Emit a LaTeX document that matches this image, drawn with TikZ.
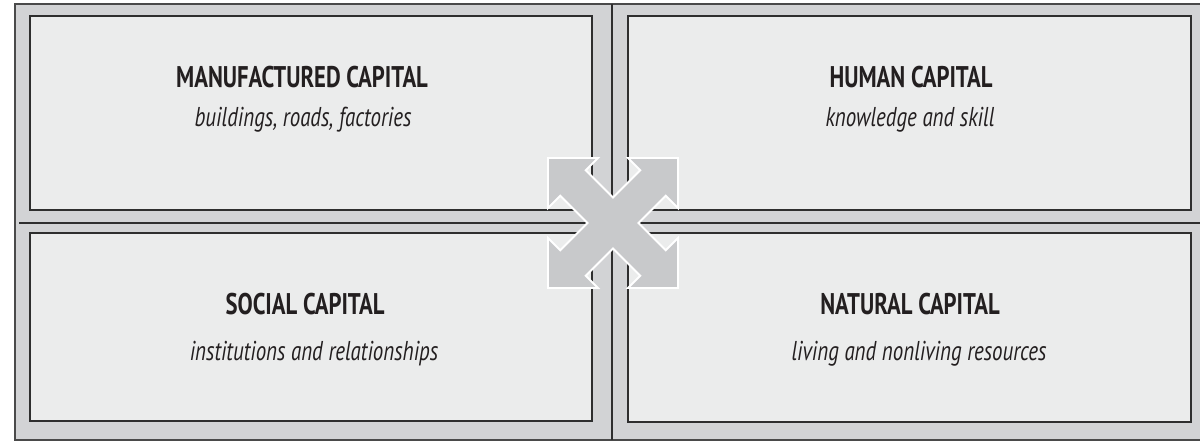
\documentclass[tikz,border=0pt]{standalone}
\usepackage{fontspec}
\setmainfont{PT Sans}
\newfontfamily\titfont{PT Sans}[FakeStretch=0.76]
\newfontfamily\subfont{PT Sans}[FakeStretch=0.77]
\definecolor{band}{HTML}{D2D3D5}
\definecolor{boxfill}{HTML}{EBECEC}
\definecolor{xgray}{HTML}{C8C9CB}
\definecolor{edge}{HTML}{2E2E2E}
\definecolor{frameline}{HTML}{4A4A4A}
\definecolor{ink}{HTML}{231F20}
\tikzset{
  capbox/.style={draw=edge, fill=boxfill, line width=1.2pt, inner sep=0pt},
  titletext/.style={anchor=base, inner sep=0pt, text=ink, font=\titfont\bfseries\fontsize{17}{20}\selectfont},
  subtext/.style={anchor=base, inner sep=0pt, text=ink, font=\subfont\itshape\fontsize{15.5}{18}\selectfont},
  frame/.style={draw=frameline, line width=0.8pt},
  divider/.style={draw=edge, line width=0.9pt},
  crossarrow/.style={fill=xgray, draw=white, line width=1.1pt, line join=miter}
}
\begin{document}
\begin{tikzpicture}[x=0.02cm,y=-0.02cm]
\useasboundingbox (0,0) rectangle (1200,446);
\clip (0,0) rectangle (1200,446);
\fill[white] (0,0) rectangle (1200,446);
\fill[band] (15,4) rectangle (1210,440);
\draw[frame] (1210,4) -- (15,4) -- (15,440) -- (1210,440);
% boxes
\node[capbox, minimum width=11.24cm, minimum height=3.88cm] (tl) at (311,113) {};
\node[capbox, minimum width=11.26cm, minimum height=3.88cm] (tr) at (909.5,113) {};
\node[capbox, minimum width=11.24cm, minimum height=3.76cm] (bl) at (311,327) {};
\node[capbox, minimum width=11.26cm, minimum height=3.78cm] (br) at (909.5,327.5) {};
% dividers
\coordinate (vtop) at (612,4);
\coordinate (vbot) at (612,440);
\coordinate (hleft) at (19,223);
\coordinate (hright) at (1210,223);
\draw[divider] (vtop) -- (vbot);
\draw[divider] (hleft) -- (hright);
% texts
\node[titletext] (t1) at (302,88) {MANUFACTURED CAPITAL};
\node[subtext] (s1) at (303,127) {buildings, roads, factories};
\node[titletext] (t2) at (911,88) {HUMAN CAPITAL};
\node[subtext] (s2) at (910,127) {knowledge and skill};
\node[titletext] (t3) at (305,314) {SOCIAL CAPITAL};
\node[subtext] (s3) at (314,360) {institutions and relationships};
\node[titletext] (t4) at (910,314) {NATURAL CAPITAL};
\node[subtext] (s4) at (919,360) {living and nonliving resources};
% central four-way arrow
\begin{scope}[shift={(613,223)}]
\path[crossarrow]
 (-65,-65) -- (-15,-65) -- (-27.27,-52.73) -- (0,-25.46) -- (27.27,-52.73) -- (15,-65)
 -- (65,-65) -- (65,-15) -- (52.73,-27.27) -- (25.46,0) -- (52.73,27.27) -- (65,15)
 -- (65,65) -- (15,65) -- (27.27,52.73) -- (0,25.46) -- (-27.27,52.73) -- (-15,65)
 -- (-65,65) -- (-65,15) -- (-52.73,27.27) -- (-25.46,0) -- (-52.73,-27.27) -- (-65,-15)
 -- cycle;
\end{scope}
\end{tikzpicture}
\end{document}
